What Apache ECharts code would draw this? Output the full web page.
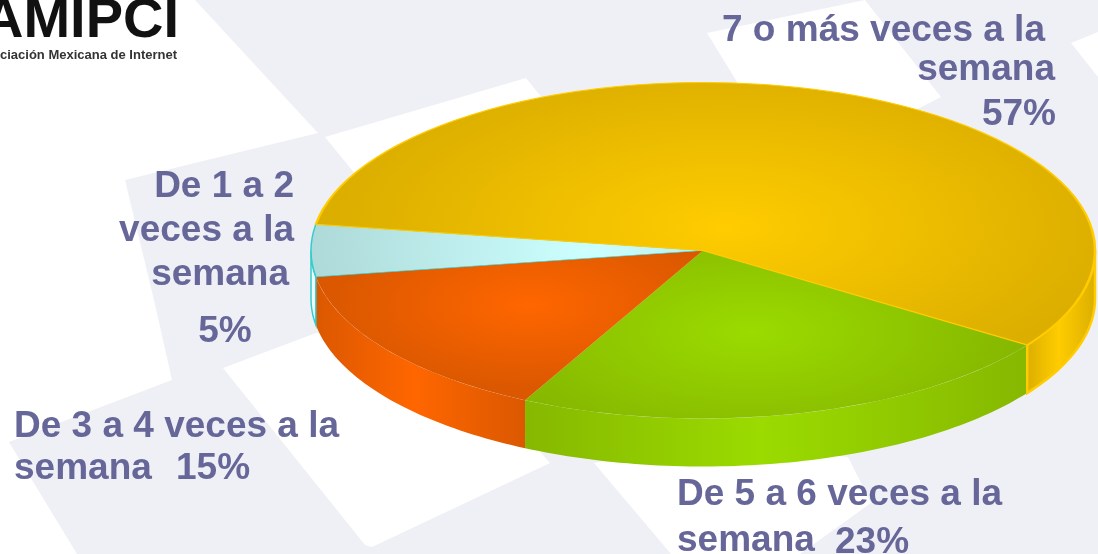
<!DOCTYPE html>
<html>
<head>
<meta charset="utf-8">
<style>html,body{margin:0;padding:0;background:#fff}#c{width:1098px;height:554px}</style>
<script src="https://cdn.jsdelivr.net/npm/echarts@6/dist/echarts.min.js"></script>
</head>
<body>
<div id="c"></div>
<script>
// ---- data ----
const categories = ['De 5 a 6 veces a la semana','De 3 a 4 veces a la semana','De 1 a 2 veces a la semana','7 o más veces a la semana'];
const shares = [23, 15, 5, 57];

// ---- label text ----
const labelTexts = ['7 o más veces a la','semana','57%','De 1 a 2','veces a la','semana','5%','De 3 a 4 veces a la','semana','15%','De 5 a 6 veces a la','semana','23%'];
const labelSpots = [[722,41,'left'],[1055,80,'right'],[1056,125,'right'],[294,197,'right'],[294,241,'right'],[289,285,'right'],[225,342,'center'],[14,437,'left'],[14,479,'left'],[176,479,'left'],[677,505,'left'],[677,551,'left'],[835,553,'left']];

// ---- pie geometry and look ----
const CX = 703, CY = 250.5, RX = 392, SQUASH = 0.4286, DEPTH = 48, START = 34.2 * Math.PI / 180;
const looks = [
  {bright:'#9BDB00', dark:'#86B800', hi:0.5,  hr:0.68, stroke:null,      lw:0},
  {bright:'#FF6600', dark:'#DB5800', hi:0.55, hr:0.5,  stroke:null,      lw:0},
  {bright:'#CCFFFF', dark:'#AEDAD9', hi:0.3,  hr:0.7,  stroke:'#33CCCC', lw:1.5, wall:'#F2FFFF'},
  {bright:'#FFCC00', dark:'#DBAE00', hi:0.15, hr:1.0,  stroke:'#FFCC00', lw:2.5}
];
const whitePatches = [
  [[0,0],[195,0],[318,133],[125,180],[154,300],[172,380],[9,442],[77,554],[0,554]],
  [[325,137],[526,78],[560,120],[360,180]],
  [[865,0],[707,33],[745,95],[906,115],[941,97]],
  [[1098,32],[1071,43],[1098,77]],
  [[223,368],[316,333],[450,350],[550,463],[372,547],[365,545]],
  [[594,463],[671,554],[800,554],[871,503],[848,457],[700,440]]
];

const total = shares.reduce((a, b) => a + b, 0);
function angleBefore(i) {
  let s = 0;
  for (let k = 0; k < i; k++) s += shares[k];
  return START + s / total * Math.PI * 2;
}
function wallPoints(a, b) {
  const pts = [], back = [], n = Math.max(2, Math.ceil((b - a) / 0.02));
  for (let i = 0; i <= n; i++) {
    const t = a + (b - a) * i / n;
    const px = CX + RX * Math.cos(t), py = CY + RX * SQUASH * Math.sin(t);
    pts.push([px, py]);
    back.unshift([px, py + DEPTH]);
  }
  return pts.concat(back);
}
function renderSlice(params, api) {
  const i = params.dataIndex, look = looks[i];
  const a0 = angleBefore(i), a1 = a0 + api.value(0) / total * Math.PI * 2;
  const children = [];
  // visible front wall: the part of the slice whose angle falls in 0..PI (mod 2PI)
  [0, Math.PI * 2].forEach(function (off) {
    const s = Math.max(a0, off), e = Math.min(a1, off + Math.PI);
    if (e > s) {
      children.push({
        type: 'polygon',
        shape: {points: wallPoints(s, e)},
        style: {
          fill: look.wall || {type:'linear', x:0, y:0, x2:1, y2:0, colorStops:[
            {offset:0, color:look.dark},{offset:0.47, color:look.bright},{offset:1, color:look.dark}]},
          stroke: look.stroke, lineWidth: look.lw
        }
      });
    }
  });
  const mid = (a0 + a1) / 2;
  children.push({
    type: 'sector',
    x: CX, y: CY, scaleY: SQUASH,
    shape: {cx:0, cy:0, r0:0, r:RX, startAngle:a0, endAngle:a1, clockwise:true},
    style: {
      fill: {type:'radial', global:true,
        x: Math.cos(mid) * RX * look.hi, y: Math.sin(mid) * RX * look.hi, r: RX * look.hr,
        colorStops:[{offset:0, color:look.bright},{offset:1, color:look.dark}]},
      stroke: look.stroke, lineWidth: look.lw, strokeNoScale: true
    }
  });
  return {type:'group', children: children};
}

// y values above are baselines; zrender places text by its box, so use verticalAlign bottom with a descent allowance
function textEl(t, x, baseline, align, size, fill) {
  return {type:'text', z:100, x:x, y:baseline + size * 0.3, silent:true,
    style:{text:t, fill:fill, font:'bold ' + size + 'px "Liberation Sans"', align:align, verticalAlign:'bottom', lineHeight:size * 1.15}};
}
const graphics = whitePatches.map(p => ({
  type:'polygon', z:0, silent:true, shape:{points:p}, style:{fill:'#FFFFFF'}
}));
labelTexts.forEach(function (t, i) {
  const s = labelSpots[i];
  graphics.push(textEl(t, s[0], s[1], s[2], 37, '#666699'));
});
graphics.push(textEl('AMIPCI', 179, 37, 'right', 56, '#111111'));
graphics.push(textEl('Asociación Mexicana de Internet', 177, 59, 'right', 13, '#333333'));

const chart = echarts.init(document.getElementById('c'), null, {renderer:'canvas'});
chart.setOption({
  animation: false,
  backgroundColor: '#EFF0F6',
  graphic: {elements: graphics},
  series: [{
    type: 'custom',
    coordinateSystem: 'none',
    z: 5,
    silent: true,
    renderItem: renderSlice,
    data: categories.map((c, i) => ({name:c, value:[shares[i]]}))
  }]
});
</script>
</body>
</html>
